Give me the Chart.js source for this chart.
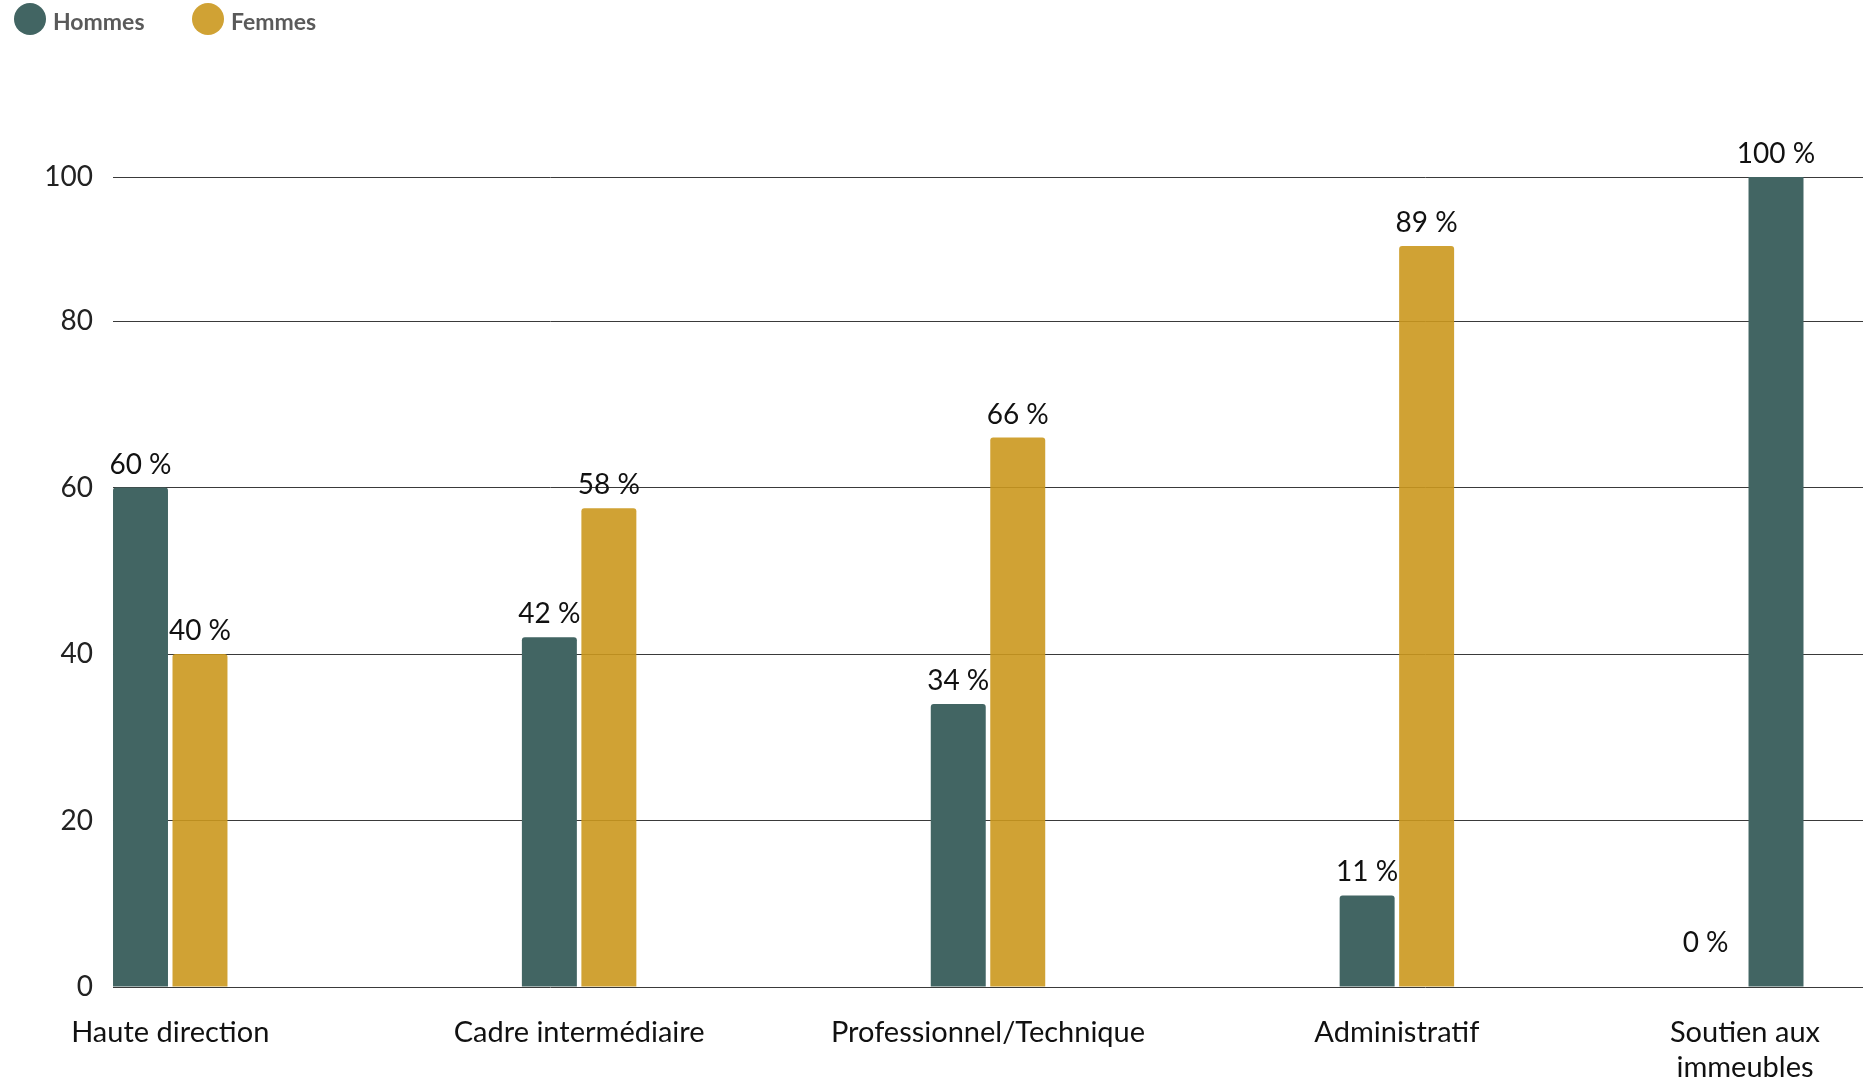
<!DOCTYPE html>
<html lang="fr">
<head>
<meta charset="utf-8">
<title>Répartition hommes / femmes par catégorie d'emploi</title>
<script src="https://cdn.jsdelivr.net/npm/chart.js@4.4.1/dist/chart.umd.min.js"></script>
<style>
  html, body { margin: 0; padding: 0; background: #fff; }
  #wrap { position: relative; width: 1869px; height: 1084px; }
</style>
</head>
<body>
<div id="wrap"><canvas id="chart"></canvas></div>
<script>
const categories = ['Haute direction', 'Cadre intermédiaire', 'Professionnel/Technique', 'Administratif', ['Soutien aux', 'immeubles']];
const hommes = [60, 42, 34, 11, 100];
const femmes = [40, 57.5, 66, 89, 0];
const seriesNames = ['Hommes', 'Femmes'];
const seriesColors = ['#426563', 'rgba(203, 152, 30, 0.9)'];
// the top grid line of the original sits a little under 100 but is labelled 100
const yMax = 97.3;
const yTickValues = [0, 20, 40, 60, 80, yMax];
const yTickLabels = ['0', '20', '40', '60', '80', '100'];

Chart.defaults.font.family = 'Lato';

// percent labels over the bars
const valueLabels = {
    id: 'valueLabels',
    afterDatasetsDraw(chart) {
        const ctx = chart.ctx;
        ctx.save();
        ctx.font = '28px Lato';
        ctx.fillStyle = '#111';
        ctx.textBaseline = 'alphabetic';
        chart.data.datasets.forEach((ds, di) => {
            const meta = chart.getDatasetMeta(di);
            meta.data.forEach((bar, i) => {
                const v = ds.data[i].y;
                const text = Math.round(v) + ' %';
                if (v === 0) {
                    // nothing to sit on, put it left of the other bar
                    const other = chart.getDatasetMeta(1 - di).data[i];
                    ctx.textAlign = 'right';
                    ctx.fillText(text, other.x - other.width / 2 - 20, bar.base - 35);
                } else {
                    ctx.textAlign = 'center';
                    ctx.fillText(text, bar.x, Math.max(bar.y, chart.chartArea.top) - 14);
                }
            });
        });
        ctx.restore();
    }
};

// category names under the axis, kept inside the right edge
const categoryLabels = {
    id: 'categoryLabels',
    afterDraw(chart) {
        const { ctx, chartArea } = chart;
        const xScale = chart.scales.x;
        ctx.save();
        ctx.font = '29px Lato';
        ctx.fillStyle = '#111';
        ctx.textAlign = 'center';
        ctx.textBaseline = 'alphabetic';
        categories.forEach((label, i) => {
            const lines = [].concat(label);
            const w = Math.max(...lines.map(l => ctx.measureText(l).width));
            const cx = Math.min(xScale.getPixelForValue(i), chartArea.right - 43 - w / 2);
            lines.forEach((l, j) => ctx.fillText(l, cx, chartArea.bottom + 55 + j * 35));
        });
        ctx.restore();
    }
};

// round dots legend, top left
const legendDots = {
    id: 'legendDots',
    afterDraw(chart) {
        const ctx = chart.ctx;
        ctx.save();
        ctx.font = '700 23px Lato';
        ctx.textAlign = 'left';
        ctx.textBaseline = 'alphabetic';
        let x = 14;
        seriesNames.forEach((name, i) => {
            ctx.fillStyle = seriesColors[i];
            ctx.beginPath();
            ctx.arc(x + 16, 19, 16, 0, Math.PI * 2);
            ctx.fill();
            ctx.fillStyle = '#5a5a5a';
            ctx.fillText(name, x + 39, 30);
            x += 178;
        });
        ctx.restore();
    }
};

const ctx = document.getElementById('chart').getContext('2d');
new Chart(ctx, {
    type: 'bar',
    data: {
        datasets: [
            {
                label: seriesNames[0],
                data: hommes.map((v, i) => ({ x: i, y: v })),
                backgroundColor: seriesColors[0]
            },
            {
                label: seriesNames[1],
                data: femmes.map((v, i) => ({ x: i, y: v })),
                backgroundColor: seriesColors[1]
            }
        ]
    },
    options: {
        responsive: true,
        maintainAspectRatio: false,
        animation: false,
        categoryPercentage: 0.291,
        barPercentage: 0.924,
        borderRadius: 3,
        borderSkipped: 'start',
        layout: { padding: { top: 177, bottom: 97, left: 0, right: 6 } },
        plugins: {
            legend: { display: false },
            tooltip: { enabled: false }
        },
        scales: {
            x: {
                type: 'linear',
                display: false,
                offset: false,
                min: -0.14,
                max: 4.14,
                afterBuildTicks: s => { s.ticks = categories.map((c, i) => ({ value: i })); }
            },
            y: {
                min: 0,
                max: yMax,
                afterBuildTicks: s => { s.ticks = yTickValues.map(v => ({ value: v })); },
                afterFit: s => { s.width = 113; },
                border: { display: false },
                grid: { color: '#3a3a3a', lineWidth: 1, drawTicks: false },
                ticks: {
                    padding: 20,
                    color: '#222',
                    font: { size: 28 },
                    callback: (v, idx) => yTickLabels[idx]
                }
            }
        }
    },
    plugins: [valueLabels, categoryLabels, legendDots]
});
</script>
</body>
</html>
